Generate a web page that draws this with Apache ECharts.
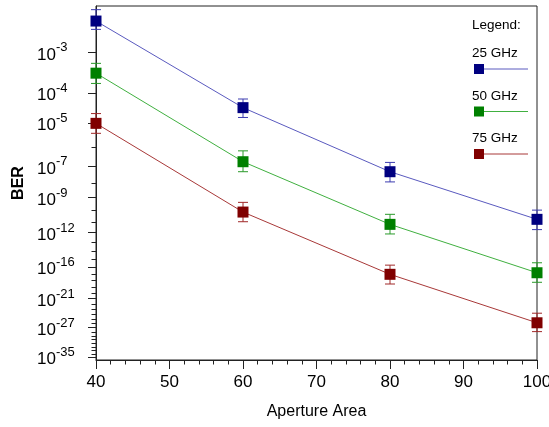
<!DOCTYPE html>
<html>
<head>
<meta charset="utf-8">
<script src="https://cdn.jsdelivr.net/npm/echarts@6/dist/echarts.min.js"></script>
<style>
html,body{margin:0;padding:0;background:#fff;}
#chart{width:549px;height:427px;}
</style>
</head>
<body>
<div id="chart"></div>
<script>
// ---- data ----
const apertureArea = [40, 60, 80, 100];
const seriesNames = ['25 GHz', '50 GHz', '75 GHz'];
const ber25 = [3.7e-3, 3.5e-5, 5.0e-8, 1.8e-11];
const ber50 = [3.4e-4, 1.8e-7, 6.3e-12, 1.5e-17];
const ber75 = [9.7e-6, 7.6e-11, 8.9e-18, 1.3e-26];
const errHigh25 = [5.5e-3, 6.6e-5, 1.65e-7, 1.1e-10];
const errLow25  = [2.7e-3, 1.6e-5, 1.2e-8, 2.0e-12];
const errHigh50 = [5.8e-4, 6.4e-7, 4.9e-11, 3.5e-16];
const errLow50  = [1.85e-4, 5.0e-8, 7.4e-13, 5.6e-19];
const errHigh75 = [2.2e-5, 4.5e-10, 1.7e-16, 1.5e-24];
const errLow75  = [3.9e-6, 1.1e-11, 3.0e-19, 1.1e-28];
const majorExponents = [-3, -4, -5, -7, -9, -12, -16, -21, -27, -35];
const minorExponents = [-6, -8, -10, -11, -13, -14, -15, -17, -18, -19, -20,
  -22, -23, -24, -25, -26, -28, -29, -30, -31, -32, -33, -34];
const xTicks = [40, 50, 60, 70, 80, 90, 100];
const yTopBER = 6.2e-3;
const yBottomBER = 1.4e-36;

// ---- BER probability scale: log10(Q^-1(BER)) ----
function lnQ(x) {
  const z = x / Math.SQRT2;
  const t = 1 / (1 + 0.5 * z);
  const p = -z * z - 1.26551223 + t * (1.00002368 + t * (0.37409196 + t * (0.09678418 +
    t * (-0.18628806 + t * (0.27886807 + t * (-1.13520398 + t * (1.48851587 +
    t * (-0.82215223 + t * 0.17087277))))))));
  return Math.log(t) + p + Math.log(0.5);
}
function qinv(ber) {
  const target = Math.log(ber);
  let lo = 0, hi = 60;
  for (let i = 0; i < 200; i++) {
    const mid = (lo + hi) / 2;
    if (lnQ(mid) > target) lo = mid; else hi = mid;
  }
  return (lo + hi) / 2;
}
function tr(ber) { return Math.log10(qinv(ber)); }

const FONT = 'Liberation Sans, Arial, sans-serif';
const markerColors = ['#000080', '#008000', '#800000'];
const lineColors = ['#5a5abf', '#40b040', '#a83838'];
const errColors = ['#3c3cb0', '#2a9a2a', '#a02828'];

const bers = [ber25, ber50, ber75];
const highs = [errHigh25, errHigh50, errHigh75];
const lows = [errLow25, errLow50, errLow75];

const majorVals = majorExponents.map(e => tr(Math.pow(10, e)));
const minorVals = minorExponents.map(e => tr(Math.pow(10, e)));

function labelFor(v) {
  let best = 0, bd = Infinity;
  majorVals.forEach((m, i) => { const d = Math.abs(m - v); if (d < bd) { bd = d; best = i; } });
  return '{b|10}{s|' + majorExponents[best] + '}';
}

const series = [];
seriesNames.forEach((name, k) => {
  series.push({
    type: 'custom',
    name: name + ' err',
    z: 2,
    data: apertureArea.map((x, i) => [x, tr(highs[k][i]), tr(lows[k][i])]),
    encode: { x: 0, y: [1, 2] },
    renderItem: function (params, api) {
      const x = api.value(0);
      const p1 = api.coord([x, api.value(1)]);
      const p2 = api.coord([x, api.value(2)]);
      const w = 5;
      const st = { stroke: errColors[k], lineWidth: 1 };
      return {
        type: 'group',
        children: [
          { type: 'line', shape: { x1: p1[0], y1: p1[1], x2: p2[0], y2: p2[1] }, style: st },
          { type: 'line', shape: { x1: p1[0] - w, y1: p1[1], x2: p1[0] + w, y2: p1[1] }, style: st },
          { type: 'line', shape: { x1: p2[0] - w, y1: p2[1], x2: p2[0] + w, y2: p2[1] }, style: st }
        ]
      };
    }
  });
  series.push({
    type: 'line',
    name: name,
    z: 3,
    data: apertureArea.map((x, i) => [x, tr(bers[k][i])]),
    symbol: 'rect',
    symbolSize: 11,
    showSymbol: true,
    itemStyle: { color: markerColors[k] },
    lineStyle: { color: lineColors[k], width: 1 },
    emphasis: { disabled: true }
  });
});

// legend drawn as graphic
const legendTextY = [53.5, 96.5, 138.5];
const legendMarkY = [69, 111.5, 154];
const graphic = [{
  type: 'text',
  style: { x: 472, y: 25, text: 'Legend:', font: '13.5px ' + FONT, fill: '#000', verticalAlign: 'middle' }
}];
seriesNames.forEach((name, k) => {
  graphic.push({
    type: 'text',
    style: { x: 472, y: legendTextY[k], text: name, font: '13.5px ' + FONT, fill: '#000', verticalAlign: 'middle' }
  });
  graphic.push({
    type: 'line', shape: { x1: 479, y1: legendMarkY[k], x2: 528, y2: legendMarkY[k] },
    style: { stroke: lineColors[k], lineWidth: 1 }
  });
  graphic.push({
    type: 'rect', shape: { x: 474, y: legendMarkY[k] - 5, width: 10, height: 10 },
    style: { fill: markerColors[k] }
  });
});

const chart = echarts.init(document.getElementById('chart'), null, { renderer: 'canvas' });
chart.setOption({
  animation: false,
  backgroundColor: '#fff',
  grid: {
    left: 96, right: 12, top: 6, bottom: 67, show: true,
    borderColor: '#222', borderWidth: 1, backgroundColor: 'transparent',
    containLabel: false, outerBoundsMode: 'none'
  },
  xAxis: {
    type: 'value', min: 40, max: 100, interval: 10,
    name: 'Aperture Area', nameLocation: 'middle', nameGap: 44,
    nameTextStyle: { fontFamily: FONT, fontSize: 16, color: '#000' },
    axisLine: { lineStyle: { color: '#222', width: 1 } },
    axisTick: { length: 9, lineStyle: { color: '#222' }, customValues: xTicks },
    minorTick: { show: true, splitNumber: 5, length: 4.5, lineStyle: { color: '#222' } },
    axisLabel: { fontFamily: FONT, fontSize: 17, color: '#000', margin: 14, customValues: xTicks },
    splitLine: { show: false }
  },
  yAxis: [{
    type: 'value', inverse: true, min: tr(yTopBER), max: tr(yBottomBER),
    name: 'BER', nameLocation: 'middle', nameGap: 66, nameRotate: 90,
    nameTextStyle: { fontFamily: FONT, fontSize: 16, fontWeight: 'bold', color: '#000' },
    axisLine: { show: true, lineStyle: { color: '#222', width: 1 } },
    axisTick: { show: true, length: 8, lineStyle: { color: '#222' }, customValues: majorVals },
    axisLabel: {
      show: true, customValues: majorVals, align: 'left', margin: 59,
      formatter: labelFor,
      rich: {
        b: { fontFamily: FONT, fontSize: 17, color: '#000', lineHeight: 22, verticalAlign: 'bottom' },
        s: { fontFamily: FONT, fontSize: 13, color: '#000', lineHeight: 13, verticalAlign: 'top' }
      }
    },
    splitLine: { show: false }
  }, {
    type: 'value', inverse: true, min: tr(yTopBER), max: tr(yBottomBER), position: 'left',
    axisLine: { show: false },
    axisTick: { show: true, length: 4.5, lineStyle: { color: '#222' }, customValues: minorVals },
    axisLabel: { show: false },
    splitLine: { show: false }
  }],
  series: series,
  graphic: graphic
});
</script>
</body>
</html>
